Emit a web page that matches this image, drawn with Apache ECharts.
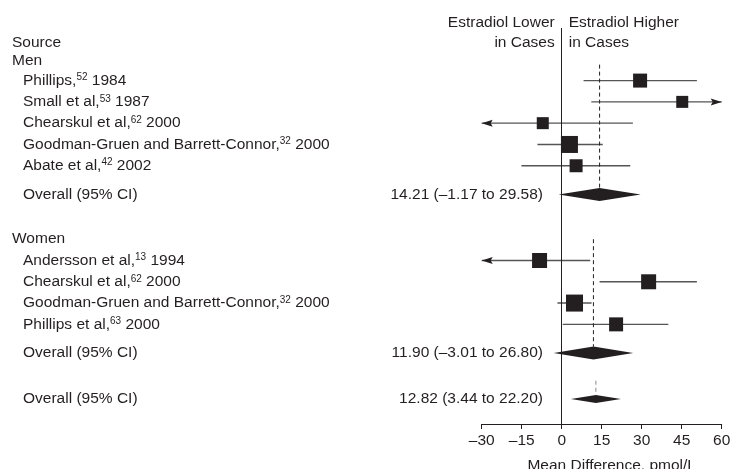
<!DOCTYPE html>
<html>
<head>
<meta charset="utf-8">
<title>Estradiol forest plot</title>
<script src="https://cdn.jsdelivr.net/npm/echarts@6/dist/echarts.min.js"></script>
<style>
html, body { margin: 0; padding: 0; background: #fff; }
#chart { width: 731px; height: 469px; }
</style>
</head>
<body>
<div id="chart"></div>
<script>
// individual studies
var studyNames = ['Phillips,', 'Small et al,', 'Chearskul et al,', 'Goodman-Gruen and Barrett-Connor,', 'Abate et al,',
    'Andersson et al,', 'Chearskul et al,', 'Goodman-Gruen and Barrett-Connor,', 'Phillips et al,'];
var studyRefs = ['52', '53', '62', '32', '42', '13', '62', '32', '63'];
var studyYears = ['1984', '1987', '2000', '2000', '2002', '1994', '2000', '2000', '2000'];
var studyRows = [0, 1, 2, 3, 4, 8.45, 9.45, 10.45, 11.45];
var studyMeans = [29.4, 45.2, -7.1, 2.9, 5.4, -8.3, 32.6, 4.8, 20.4];
var studyLower = [8.2, 11.1, -41, -9.1, -15.1, -39, 14.2, -1.6, 0.4];
var studyUpper = [50.7, 78, 26.7, 15.4, 25.7, 10.7, 50.7, 11.2, 40.0];
var studyWeights = [14, 12, 12, 17, 13, 15, 15, 17, 14];

// pooled estimates
var pooledLabels = ['Overall (95% CI)', 'Overall (95% CI)', 'Overall (95% CI)'];
var pooledRows = [5.35, 12.8, 14.95];
var pooledMeans = [14.21, 11.90, 12.82];
var pooledLower = [-1.17, -3.01, 3.44];
var pooledUpper = [29.58, 26.80, 22.20];
var pooledLineStart = [-0.75, 7.45, 14.1];

// headings
var headings = ['Source', 'Men', 'Women'];
var headingRows = [-1.78, -0.93, 7.45];
var sideLabels = [['Estradiol Lower', 'in Cases'], ['Estradiol Higher', 'in Cases']];
var sideRows = [-2.7, -1.76];

var xTicks = [-30, -15, 0, 15, 30, 45, 60];
var xTitle = 'Mean Difference, pmol/L';

var FONT = '"Liberation Sans", Arial, Helvetica, sans-serif';
var FS = 15.5;
var INK = '#231f20';
var diamondHalf = [6.5, 6.5, 4];

var myChart = echarts.init(document.getElementById('chart'));

function fmtNum(v) {
    return (v < 0 ? '\u2013' + Math.abs(v).toFixed(2) : v.toFixed(2));
}

function textEl(x, y, rich, align, text) {
    return {
        type: 'text',
        x: x, y: y,
        style: {
            text: text,
            x: 0, y: 0,
            align: align,
            verticalAlign: 'middle',
            fill: INK,
            font: FS + 'px ' + FONT,
            rich: rich
        },
        silent: true
    };
}

var richSup = {
    n: { fontSize: FS, fontFamily: FONT, color: INK, lineHeight: 16 },
    s: { fontSize: 10, fontFamily: FONT, color: INK, lineHeight: 12, verticalAlign: 'top' }
};

function renderStudy(params, api) {
    var i = params.dataIndex;
    var row = api.value(0), mean = api.value(1), lo = api.value(2), hi = api.value(3), w = api.value(4);
    var xMin = xTicks[0], xMax = xTicks[xTicks.length - 1];
    var pLo = api.coord([Math.max(lo, xMin), row]);
    var pHi = api.coord([Math.min(hi, xMax), row]);
    var pM = api.coord([mean, row]);
    var children = [];
    children.push({
        type: 'line',
        shape: { x1: pLo[0], y1: pLo[1], x2: pHi[0], y2: pHi[1] },
        style: { stroke: '#555', lineWidth: 1.4 }
    });
    if (lo < xMin) {
        children.push({
            type: 'polygon',
            shape: { points: [[pLo[0], pLo[1]], [pLo[0] + 11, pLo[1] - 3.5], [pLo[0] + 9, pLo[1]], [pLo[0] + 11, pLo[1] + 3.5]] },
            style: { fill: INK }
        });
    }
    if (hi > xMax) {
        children.push({
            type: 'polygon',
            shape: { points: [[pHi[0], pHi[1]], [pHi[0] - 11, pHi[1] - 3.5], [pHi[0] - 9, pHi[1]], [pHi[0] - 11, pHi[1] + 3.5]] },
            style: { fill: INK }
        });
    }
    children.push({
        type: 'rect',
        shape: { x: pM[0] - w / 2, y: pM[1] - w / 2, width: w, height: w },
        style: { fill: INK }
    });
    // source label at the left
    var label = '{n|' + studyNames[i] + '}{s|' + studyRefs[i] + '}{n| ' + studyYears[i] + '}';
    children.push(textEl(23, pM[1], richSup, 'left', label));
    return { type: 'group', children: children };
}

function renderPooled(params, api) {
    var i = params.dataIndex;
    var row = api.value(0), mean = api.value(1), lo = api.value(2), hi = api.value(3), start = api.value(4);
    var h = diamondHalf[i];
    var pLo = api.coord([lo, row]);
    var pHi = api.coord([hi, row]);
    var pM = api.coord([mean, row]);
    var pTop = api.coord([mean, start]);
    var last = i === pooledRows.length - 1;
    return {
        type: 'group',
        children: [
            {
                type: 'line',
                shape: { x1: pM[0], y1: pTop[1], x2: pM[0], y2: pM[1] - h },
                style: { stroke: last ? '#888' : INK, lineWidth: 1, lineDash: [4, 3] }
            },
            {
                type: 'polygon',
                shape: { points: [[pLo[0], pM[1]], [pM[0], pM[1] - h], [pHi[0], pM[1]], [pM[0], pM[1] + h]] },
                style: { fill: INK }
            },
            textEl(23, pM[1], null, 'left', pooledLabels[i]),
            textEl(543, pM[1], null, 'right', fmtNum(mean) + ' (' + fmtNum(lo) + ' to ' + fmtNum(hi) + ')')
        ]
    };
}

function renderHeading(params, api) {
    var p = api.coord([0, api.value(0)]);
    return textEl(12, p[1], null, 'left', headings[params.dataIndex]);
}

function renderSide(params, api) {
    var i = params.dataIndex;
    var p = api.coord([0, api.value(0)]);
    return {
        type: 'group',
        children: [
            textEl(p[0] - 7, p[1], null, 'right', sideLabels[0][i]),
            textEl(p[0] + 7, p[1], null, 'left', sideLabels[1][i])
        ]
    };
}

var studyData = studyRows.map(function (r, i) {
    return [r, studyMeans[i], studyLower[i], studyUpper[i], studyWeights[i]];
});
var pooledData = pooledRows.map(function (r, i) {
    return [r, pooledMeans[i], pooledLower[i], pooledUpper[i], pooledLineStart[i]];
});

var option = {
    animation: false,
    backgroundColor: '#fff',
    textStyle: { fontFamily: FONT, color: INK },
    grid: { left: 481.7, right: 9.3, top: 28, bottom: 45, outerBoundsMode: 'none', containLabel: false },
    xAxis: {
        type: 'value',
        min: xTicks[0],
        max: xTicks[xTicks.length - 1],
        interval: 15,
        name: xTitle,
        nameLocation: 'middle',
        nameGap: 34,
        nameTextStyle: { fontSize: FS, color: INK, fontFamily: FONT, padding: [0, 0, 0, 20] },
        axisLine: { onZero: false, lineStyle: { color: INK, width: 1 } },
        axisTick: { length: 5, lineStyle: { color: INK } },
        splitLine: { show: false },
        axisLabel: {
            fontSize: FS, color: INK, fontFamily: FONT, margin: 9,
            formatter: function (v) { return v < 0 ? '\u2013' + Math.abs(v) : String(v); }
        }
    },
    yAxis: {
        type: 'value',
        inverse: true,
        min: -2.47,
        max: 16.13,
        show: false
    },
    series: [
        {
            type: 'line',
            data: [],
            markLine: {
                silent: true,
                symbol: 'none',
                label: { show: false },
                lineStyle: { color: INK, width: 1, type: 'solid' },
                data: [{ xAxis: 0 }]
            }
        },
        {
            type: 'custom',
            renderItem: renderStudy,
            encode: { x: [1, 2, 3], y: 0 },
            data: studyData,
            clip: false,
            silent: true
        },
        {
            type: 'custom',
            renderItem: renderPooled,
            encode: { x: [1, 2, 3], y: 0 },
            data: pooledData,
            clip: false,
            silent: true
        },
        {
            type: 'custom',
            renderItem: renderHeading,
            encode: { y: 0 },
            data: headingRows.map(function (r) { return [r]; }),
            clip: false,
            silent: true
        },
        {
            type: 'custom',
            renderItem: renderSide,
            encode: { y: 0 },
            data: sideRows.map(function (r) { return [r]; }),
            clip: false,
            silent: true
        }
    ]
};

myChart.setOption(option);
</script>
</body>
</html>
